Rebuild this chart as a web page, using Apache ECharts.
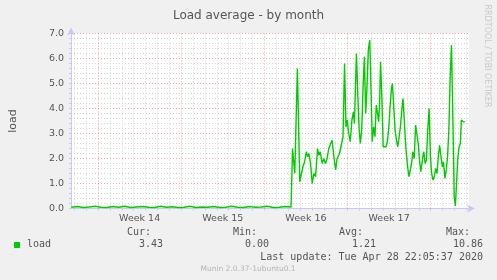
<!DOCTYPE html>
<html>
<head>
<meta charset="utf-8">
<script src="https://cdn.jsdelivr.net/npm/echarts@6/dist/echarts.min.js"></script>
<style>
html,body{margin:0;padding:0;background:#F0F0F0;}
#c{width:497px;height:280px;}
</style>
</head>
<body>
<div id="c"></div>
<script>
// ---- data (x = days after Sunday 29 Mar 2020 00:00) ----
var titleText = 'Load average - by month';
var yTicks = [0, 1, 2, 3, 4, 5, 6, 7];
var weekLabels = ['Week 14', 'Week 15', 'Week 16', 'Week 17'];
var weekCenters = [3.5, 10.5, 17.5, 24.5];
var weekStarts = [0, 7, 14, 21, 28];
var loadDays = [
  -2.25,-1.75,-1.25,-0.75,-0.25,0.25,0.75,1.25,1.75,2.25,2.75,3.25,3.75,4.25,4.75,5.25,5.75,6.25,6.75,7.25,
  7.75,8.25,8.75,9.25,9.75,10.25,10.75,11.25,11.75,12.25,12.75,13.25,13.75,14.25,14.75,15.25,15.75,16.25,16.31,
  16.37,16.56,16.78,16.98,17.12,17.25,17.39,17.53,17.64,17.75,17.89,18.03,18.17,18.31,18.48,18.58,18.70,18.87,
  19.00,19.14,19.28,19.42,19.56,19.70,19.87,20.00,20.12,20.25,20.33,20.48,20.62,20.75,20.87,20.98,21.08,21.23,
  21.37,21.50,21.58,21.75,21.87,21.98,22.08,22.20,22.31,22.42,22.53,22.64,22.75,22.87,22.98,23.08,23.20,23.31,
  23.42,23.53,23.62,23.70,23.78,23.89,24.00,24.14,24.25,24.37,24.48,24.58,24.70,24.78,24.89,25.00,25.12,25.23,
  25.33,25.45,25.56,25.67,25.78,25.87,25.95,26.06,26.17,26.28,26.39,26.50,26.62,26.73,26.83,26.95,27.06,27.17,
  27.28,27.35,27.42,27.53,27.64,27.75,27.87,27.98,28.08,28.20,28.31,28.42,28.53,28.64,28.75,28.87,28.98,29.08,
  29.20,29.31,29.42,29.53,29.64,29.75,29.87,29.98,30.08,30.20,30.28,30.39,30.50,30.58,30.67,30.75,30.87
];
var loadValues = [
  0.05,0.08,0.04,0.06,0.09,0.05,0.04,0.08,0.05,0.09,0.04,0.06,0.08,0.05,0.04,0.09,0.05,0.07,0.04,0.05,
  0.09,0.04,0.06,0.05,0.08,0.04,0.05,0.09,0.05,0.04,0.08,0.05,0.06,0.09,0.04,0.05,0.08,0.06,0.05,
  2.4,1.4,5.6,1.07,1.4,1.67,1.87,2.27,2.07,2.2,1.8,1.0,1.4,1.27,2.4,2.13,2.27,1.8,
  2.0,1.8,2.0,2.4,2.4,2.73,2.0,1.54,2.0,1.93,2.2,2.2,2.87,5.8,3.27,3.54,3.07,2.67,
  3.54,3.87,3.4,6.2,4.47,3.14,2.6,3.2,4.87,6.07,3.8,4.87,6.34,6.74,4.74,2.67,3.27,2.87,
  4.14,3.8,3.47,4.2,5.87,4.47,2.47,2.53,2.47,2.73,3.27,4.07,4.8,5.0,4.07,3.14,2.73,2.47,
  2.8,3.27,3.87,4.4,3.54,2.73,2.2,1.67,1.27,1.27,1.8,2.27,2.0,3.34,3.0,2.6,1.93,1.47,
  1.47,2.1,2.27,1.8,1.93,3.14,4.0,2.07,1.4,1.14,1.27,1.6,1.4,2.07,2.53,2.07,1.67,1.87,
  1.2,1.54,2.07,3.14,5.27,6.54,3.54,0.47,0.1,0.07,2.0,2.47,2.6,3.54,3.6,3.47,3.47
];
var legendHeads = ['Cur:', 'Min:', 'Avg:', 'Max:'];
var legendVals = ['3.43', '0.00', '1.21', '10.86'];
var seriesName = 'load';
var lastUpdate = 'Last update: Tue Apr 28 22:05:37 2020';
var footer = 'Munin 2.0.37-1ubuntu0.1';
var sideText = 'RRDTOOL / TOBI OETIKER';

// ---- chart ----
var xMin = -2.275, xMax = 31.225;
var dayLines = [];
for (var d = Math.ceil(xMin); d <= Math.floor(xMax); d++) {
  if (weekStarts.indexOf(d) < 0) dayLines.push(d);
}
var allDays = [];
for (var d2 = Math.ceil(xMin); d2 <= Math.floor(xMax); d2++) allDays.push(d2);

var chart = echarts.init(document.getElementById('c'), null, {renderer: 'canvas'});
var mono = 'DejaVu Sans Mono';
var colHeadsRight = [151, 257, 363, 470];
var colValsRight = [163, 269, 376, 483];
var graphics = [];
legendHeads.forEach(function (h, i) {
  graphics.push({type: 'text', x: colHeadsRight[i], y: 232,
    style: {text: h, font: '10px "' + mono + '"', fill: '#555', align: 'right', verticalAlign: 'middle'}});
});
legendVals.forEach(function (v, i) {
  graphics.push({type: 'text', x: colValsRight[i], y: 244.5,
    style: {text: v, font: '10px "' + mono + '"', fill: '#555', align: 'right', verticalAlign: 'middle'}});
});
graphics.push({type: 'rect', shape: {x: 14, y: 242, width: 6, height: 6}, style: {fill: '#00CC00'}});
graphics.push({type: 'text', x: 27, y: 244.5,
  style: {text: seriesName, font: '10px "' + mono + '"', fill: '#555', align: 'left', verticalAlign: 'middle'}});
graphics.push({type: 'text', x: 483, y: 257,
  style: {text: lastUpdate, font: '10px "' + mono + '"', fill: '#555', align: 'right', verticalAlign: 'middle'}});
graphics.push({type: 'text', x: 248, y: 269.5,
  style: {text: footer, font: '7.5px "DejaVu Sans"', fill: '#b4b4b4', align: 'center', verticalAlign: 'middle'}});
graphics.push({type: 'text', x: 487, y: 56, rotation: -Math.PI / 2,
  style: {text: sideText, font: '8px "DejaVu Sans"', fill: '#c8c8c8', align: 'center', verticalAlign: 'middle'}});

var option = {
  animation: false,
  backgroundColor: '#F0F0F0',
  title: {text: titleText, left: 'center', top: 5,
    textStyle: {fontFamily: 'DejaVu Sans', fontSize: 12, fontWeight: 'normal', color: '#555'}},
  grid: {left: 67, width: 402, top: 33.5, height: 175, backgroundColor: '#FFFFFF', show: true, borderWidth: 0},
  xAxis: {
    type: 'value', min: xMin, max: xMax,
    axisLine: {show: true, onZero: false, lineStyle: {color: '#c8c8f4', width: 1}, symbol: ['none', 'arrow'], symbolSize: [6, 8], symbolOffset: [0, 6]},
    axisTick: {show: true, customValues: allDays, length: 2, lineStyle: {color: '#c8c8f4'}},
    axisLabel: {show: true, customValues: weekCenters, margin: 5,
      formatter: function (v) { var i = weekCenters.indexOf(v); return i >= 0 ? weekLabels[i] : ''; },
      fontFamily: 'DejaVu Sans', fontSize: 9.5, color: '#555'},
    splitLine: {show: false}
  },
  yAxis: {
    type: 'value', min: 0, max: 7, interval: 1,
    name: 'load', nameLocation: 'middle', nameRotate: 90, nameGap: 52,
    nameTextStyle: {fontFamily: 'DejaVu Sans', fontSize: 11, color: '#555'},
    axisLine: {show: true, onZero: false, lineStyle: {color: '#c8c8f4', width: 1}, symbol: ['none', 'arrow'], symbolSize: [6, 8], symbolOffset: [0, 6]},
    axisTick: {show: true, length: 2, lineStyle: {color: '#c8c8f4'}},
    minorTick: {show: true, splitNumber: 5, length: 2, lineStyle: {color: '#c8c8f4'}},
    axisLabel: {margin: 7, fontFamily: 'DejaVu Sans', fontSize: 9.5, color: '#555',
      customValues: yTicks,
      formatter: function (v) { return v.toFixed(1); }},
    splitLine: {show: true, lineStyle: {color: 'rgba(230,90,90,0.55)', type: [1, 2], width: 1}},
    minorSplitLine: {show: true, lineStyle: {color: '#d2d2d2', type: [1, 2], width: 1}}
  },
  graphic: graphics,
  series: [
    {type: 'line', data: [], silent: true, z: 1,
      markLine: {silent: true, symbol: 'none', label: {show: false}, animation: false,
        data: dayLines.map(function (d) { return {xAxis: d, lineStyle: {color: '#d2d2d2', type: [1, 2], width: 1}}; })
          .concat(weekStarts.map(function (d) { return {xAxis: d, lineStyle: {color: 'rgba(230,90,90,0.55)', type: [1, 2], width: 1}}; }))}
    },
    {type: 'line', name: seriesName, z: 5,
      data: loadDays.map(function (d, i) { return [d, loadValues[i]]; }),
      showSymbol: false, symbol: 'none',
      lineStyle: {color: '#00CC00', width: 1.4}}
  ]
};
chart.setOption(option);
</script>
</body>
</html>
